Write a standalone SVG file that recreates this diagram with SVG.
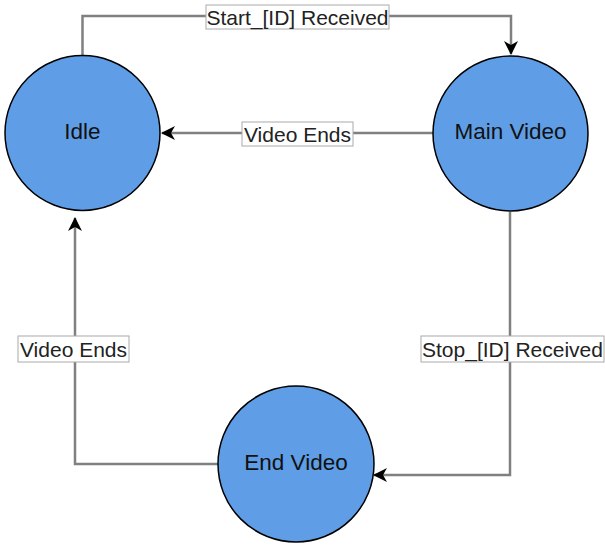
<svg xmlns="http://www.w3.org/2000/svg" width="605" height="546" viewBox="0 0 605 546">
<style>
.node{fill:#5f9ee6;stroke:#000;stroke-width:1.5}
.ntext{font-family:"Liberation Sans",Arial,sans-serif;font-size:22.5px;fill:#111;text-anchor:middle;dominant-baseline:central}
.edge{fill:none;stroke:#808080;stroke-width:2.5}
.lbox{fill:#fff;stroke:#aaa;stroke-width:1}
.ltext{font-family:"Liberation Sans",Arial,sans-serif;font-size:21px;fill:#222;text-anchor:middle;dominant-baseline:central}
</style>
<defs>
<marker id="arr" viewBox="0 0 14 14" refX="13" refY="7" markerWidth="14" markerHeight="14" markerUnits="userSpaceOnUse" orient="auto">
<path d="M0,0 L14,7 L0,14 L4,7 Z" fill="#000"/>
</marker>
</defs>
<rect width="605" height="546" fill="#fff"/>
<g id="connectors">
<path class="edge" d="M82.5,55 V16 H511 V54" marker-end="url(#arr)"/>
<path class="edge" d="M433,133 H162" marker-end="url(#arr)"/>
<path class="edge" d="M510,212 V475 H374" marker-end="url(#arr)"/>
<path class="edge" d="M218,464 H75 V218" marker-end="url(#arr)"/>
<g id="label-start"><rect class="lbox" x="206" y="5" width="183" height="24"/><text class="ltext" x="297.5" y="17">Start_[ID] Received</text></g>
<g id="label-ends1"><rect class="lbox" x="242" y="122" width="111" height="24"/><text class="ltext" x="297.5" y="134">Video Ends</text></g>
<g id="label-ends2"><rect class="lbox" x="18" y="336" width="111" height="26"/><text class="ltext" x="73.5" y="349">Video Ends</text></g>
<g id="label-stop"><rect class="lbox" x="421" y="336" width="183" height="26"/><text class="ltext" x="512.5" y="349">Stop_[ID] Received</text></g>
</g>
<g id="idle"><circle class="node" cx="82.5" cy="133" r="77.5"/><text class="ntext" x="82.5" y="131">Idle</text></g>
<g id="main-video"><circle class="node" cx="510.5" cy="133.5" r="77.5"/><text class="ntext" x="510.5" y="131">Main Video</text></g>
<g id="end-video"><circle class="node" cx="296" cy="464" r="78"/><text class="ntext" x="296" y="462">End Video</text></g>
</svg>
